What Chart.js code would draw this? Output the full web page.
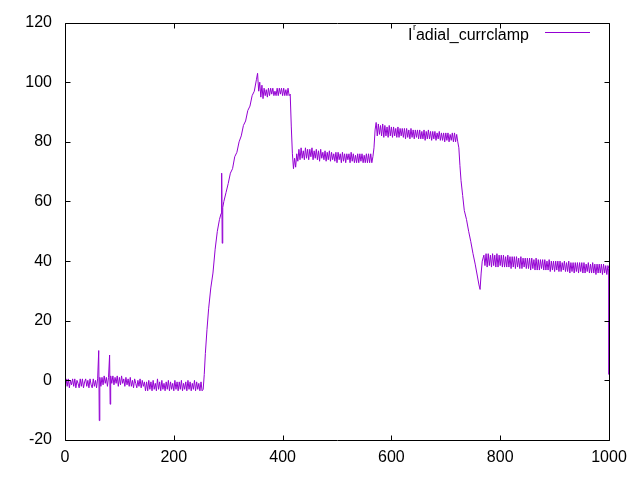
<!DOCTYPE html>
<html>
<head>
<meta charset="utf-8">
<script src="https://cdn.jsdelivr.net/npm/chart.js@4/dist/chart.umd.min.js"></script>
<style>
html,body{margin:0;padding:0;background:#fff;}
canvas{display:block;}
</style>
</head>
<body>
<canvas id="c" width="640" height="480"></canvas>
<script>
const xValues = [
0,2,4,6,8,10,12,14,16,18,20,22,24,26,28,30,32,34,36,38,40,42,44,46,48,50,52,54,56,58,60,
62,63,64,
66,68,70,72,74,76,78,80,
82,83,84,
86,88,90,92,94,96,98,100,102,104,106,108,110,112,114,116,118,120,122,124,126,128,130,132,134,136,138,140,142,144,146,
148,150,152,154,156,158,160,162,164,166,168,170,172,174,176,178,180,182,184,186,188,190,192,194,196,198,200,202,204,206,208,210,212,214,216,218,220,222,224,226,228,230,232,234,236,238,240,242,244,246,248,250,252,
254,256,258,261,264,268,272,276,280,284,287,288,289,290,292,296,300,304,308,312,316,320,324,328,332,336,340,344,348,352,354,
356,358,360,362,364,366,368,370,372,374,376,378,380,382,384,386,388,390,392,394,396,398,400,402,404,406,408,410,412,
414,416,418,420,
422,424,426,428,430,432,434,436,438,440,442,444,446,448,450,452,454,456,458,460,462,464,466,468,470,472,474,476,478,480,
482,484,486,488,490,492,494,496,498,500,502,504,506,508,510,512,514,516,518,520,522,524,526,528,530,532,534,536,538,540,
542,544,546,548,550,552,554,556,558,560,562,564,566,
568,570,572,
574,576,578,580,582,584,586,588,590,592,594,596,598,600,602,604,606,608,610,612,614,616,618,620,622,624,626,628,630,632,
634,636,638,640,642,644,646,648,650,652,654,656,658,660,662,664,666,668,670,672,674,676,678,680,682,684,686,688,690,692,
694,696,698,700,702,704,706,708,710,712,714,716,718,720,722,
724,726,728,731,734,738,742,746,750,754,758,761,763,765,767,
770,772,774,776,778,780,782,784,786,788,790,792,794,796,798,800,802,804,806,808,810,812,814,816,818,820,822,824,826,828,
830,832,834,836,838,840,842,844,846,848,850,852,854,856,858,860,862,864,866,868,870,872,874,876,878,880,882,884,886,888,
890,892,894,896,898,900,902,904,906,908,910,912,914,916,918,920,922,924,926,928,930,932,934,936,938,940,942,944,946,948,
950,952,954,956,958,960,962,964,966,968,970,972,974,976,978,980,982,984,986,988,990,992,994,996,998,
1000,1000
];
const yValues = [
-1,0.5,-2,0.5,-2.5,0,-1.5,0.5,-2,0.5,-2.5,0,-1,-2.5,0.5,-2,0.5,-2.5,-0.5,0.5,-2,0,-2.5,0.5,-1.5,-2.5,0.5,-2,0,-2.5,0.5,
10,-13.5,1,
-2,1,-1.5,1.5,-1,1,-2,1,
8.5,-8,1.5,
-1,1.5,-1.5,1,-1,1.5,-2,1,-1.5,1.5,-1,0.5,-2,1,-1.5,0.5,-2,1,-2,0,-2.5,0.5,-1,-2.5,0,-2,0.5,-2.5,0,-2,-0.5,
-3.5,-0.5,-3.5,0,-3,-0.5,-3.5,0,-3,-1,-3.5,0.5,-3,-0.5,-3.5,0,-3,-1,-3.5,-0.5,-3,0,-3.5,-0.5,-3,-1,-3.5,0,-3,-0.5,-3.5,-0.5,-3,0,-3.5,-1,-3,-0.5,-3.5,0,-3,-0.5,-3.5,-1,-3,0,-3.5,-0.5,-3,-1,-3.5,-0.5,-3.5,
-3,2,9,17,24,31,36,44,50,54,56,69.5,46,58,60,63,66,69.5,71,75,76.5,80,82,85.5,87,90.5,92,95.5,97,101,103,
97,100,95,99,94.5,98,95.5,97.5,95,98,95.5,98,96,98,95.5,97,95.5,98,95.5,98,96,98,95.5,98,95.5,97.5,95.5,98,95.5,
96,85,76,71,
74.5,71.5,76,73.5,77.5,74,78,74.5,77,74,78,74.5,77.5,74,77.5,75,78,74,77,74.5,77.5,74,77,73.5,77.5,74.5,76.5,74,77,73.5,
76.5,74,77,73.5,76.5,74,76,73.5,76.5,73,76.5,74,76,73,76.5,73.5,76,73,76,74,76,73,76.5,73.5,76,73,75.5,73,76,73,
76,73.5,76,73,75.5,73,76,73,76,73,76,73,75,
78,84,86.5,
82,86,82.5,85.5,82,86,81.5,85.5,82,85,81.5,85.5,82,85,81.5,85,82,84.5,81.5,85,81.5,84.5,82,84.5,81.5,84.5,81,84.5,81.5,84,
81,84.5,81.5,84,81,84,81.5,84,81,84,81,83.5,81,84,80.5,83.5,81,84,81,83.5,80.5,83.5,81,83.5,80.5,83,81,83.5,80.5,83,
80.5,83,80,83,80.5,83,80,82.5,80.5,83,80,83,80,82.5,80,
78,72,67,62,57,54,50,46.5,42.5,39,35,32,30.5,36,40,
42,38.5,42.5,38,42.5,38.5,42,38,42.5,38.5,42,38,42.5,38,42,38.5,42,38,42,38,41.5,38,42,38,41.5,37.5,41.5,38,41.5,37.5,
41.5,38,41,37.5,41.5,37.5,41,38,41,37.5,41,37.5,41,37,41,37.5,40.5,37,41,37,40.5,37,40.5,37.5,40.5,37,40.5,37,40,37,
40.5,36.5,40,37,40,36.5,40,37,40,36.5,40,36.5,39.5,37,40,36.5,39.5,36.5,40,36,39.5,36.5,39.5,36,39.5,36.5,39.5,36,39.5,36.5,
39.5,36,39.5,36,39,36.5,39.5,36,39,36,39.5,36,39,35.5,39,36,39,36,39,35.5,39,36,38.5,35.5,38.5,
37.5,2
];
const xTicks = [0, 200, 400, 600, 800, 1000];
const yTicks = [-20, 0, 20, 40, 60, 80, 100, 120];
const seriesName = 'I_radial_currclamp';

const points = xValues.map((x, i) => ({x: x, y: yValues[i]}));
const LINE_COLOR = '#9400d3';
const FONT = '"Liberation Sans", Arial, sans-serif';

const framePlugin = {
  id: 'frame',
  afterDraw(chart) {
    const ctx = chart.ctx;
    const a = chart.chartArea;
    const xs = chart.scales.x, ys = chart.scales.y;
    const L = Math.round(a.left) + 0.5, R = Math.round(a.right) + 0.5;
    const T = Math.round(a.top) + 0.5, B = Math.round(a.bottom) + 0.5;
    ctx.save();
    ctx.strokeStyle = '#000';
    ctx.lineWidth = 1;
    ctx.beginPath();
    ctx.rect(L, T, R - L, B - T);
    const tl = 5;
    xTicks.forEach(v => {
      const p = Math.round(xs.getPixelForValue(v)) + 0.5;
      ctx.moveTo(p, B); ctx.lineTo(p, B - tl);
      ctx.moveTo(p, T); ctx.lineTo(p, T + tl);
    });
    yTicks.forEach(v => {
      const p = Math.round(ys.getPixelForValue(v)) + 0.5;
      ctx.moveTo(L, p); ctx.lineTo(L + tl, p);
      ctx.moveTo(R, p); ctx.lineTo(R - tl, p);
    });
    ctx.stroke();

    // legend (gnuplot enhanced text: "_r" drawn as small raised r)
    ctx.fillStyle = '#000';
    ctx.textBaseline = 'alphabetic';
    ctx.textAlign = 'left';
    const parts = seriesName.split('_');
    const first = parts[0];
    const subChar = parts[1].charAt(0);
    const rest = parts[1].slice(1) + '_' + parts.slice(2).join('_');
    let x0 = 408, base = 40;
    ctx.font = '16px ' + FONT;
    ctx.fillText(first, x0, base);
    x0 += ctx.measureText(first).width;
    ctx.font = '9px ' + FONT;
    ctx.fillText(subChar, x0 + 0.5, base - 10);
    x0 += ctx.measureText(subChar).width + 0.5;
    ctx.font = '16px ' + FONT;
    ctx.fillText(rest, x0, base);
    ctx.strokeStyle = LINE_COLOR;
    ctx.beginPath();
    ctx.moveTo(545, 32.5);
    ctx.lineTo(590, 32.5);
    ctx.stroke();
    ctx.restore();
  }
};

new Chart(document.getElementById('c'), {
  type: 'scatter',
  data: {
    datasets: [{
      label: seriesName,
      data: points,
      showLine: true,
      borderColor: LINE_COLOR,
      backgroundColor: LINE_COLOR,
      borderWidth: 1,
      pointRadius: 0,
      tension: 0,
      fill: false
    }]
  },
  options: {
    responsive: false,
    animation: false,
    events: [],
    layout: {padding: {left: 0, top: 19, right: 31, bottom: 0}},
    plugins: {legend: {display: false}, tooltip: {enabled: false}},
    scales: {
      x: {
        type: 'linear', min: 0, max: 1000,
        afterBuildTicks(s) { s.ticks = xTicks.map(v => ({value: v})); },
        afterFit(s) { s.height = 40; },
        grid: {display: false, drawTicks: false},
        border: {display: false},
        ticks: {color: '#000', padding: 8, maxRotation: 0, autoSkip: false,
                callback: v => String(v), font: {family: FONT, size: 16}}
      },
      y: {
        type: 'linear', min: -20, max: 120,
        afterBuildTicks(s) { s.ticks = yTicks.map(v => ({value: v})); },
        afterFit(s) { s.width = 65; },
        grid: {display: false, drawTicks: false},
        border: {display: false},
        ticks: {color: '#000', padding: 13, callback: v => String(v), font: {family: FONT, size: 16}}
      }
    }
  },
  plugins: [framePlugin]
});
</script>
</body>
</html>
